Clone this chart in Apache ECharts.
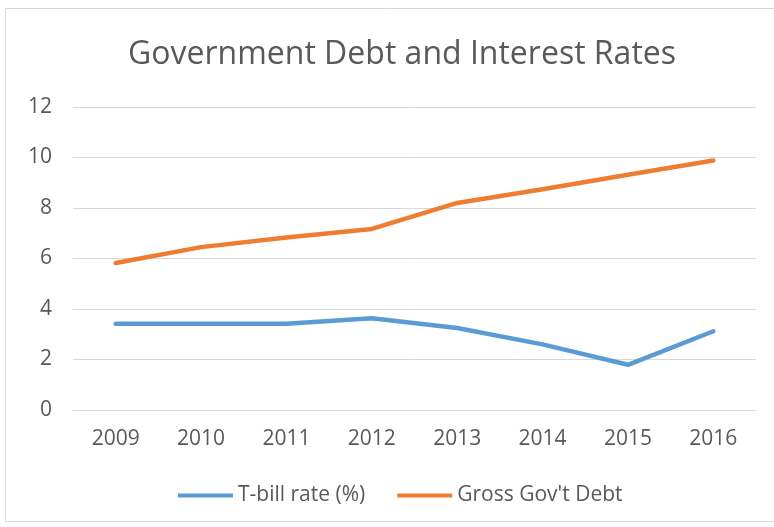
<!DOCTYPE html>
<html><head><meta charset="utf-8">
<script src="https://cdn.jsdelivr.net/npm/echarts@6/dist/echarts.min.js"></script>
<style>html,body{margin:0;padding:0;background:#fff}#c{width:774px;height:527px}</style>
</head><body><div id="c"></div>
<script>
const years = ['2009','2010','2011','2012','2013','2014','2015','2016'];
const tbill = [3.42, 3.42, 3.42, 3.63, 3.25, 2.6, 1.79, 3.12];
const debt = [5.82, 6.45, 6.83, 7.17, 8.2, 8.74, 9.32, 9.88];
const chart = echarts.init(document.getElementById('c'));
const font = "'Open Sans', sans-serif";
chart.setOption({
  animation: false,
  graphic: [{type:'rect', shape:{x:5.5,y:8.5,width:780,height:513}, style:{fill:'none', stroke:'#d9d9d9', lineWidth:1}}],
  title: {text:'Government Debt and Interest Rates', left:123, top:34,
    textStyle:{fontFamily:font, fontSize:32, fontWeight:'normal', color:'#595959'}},
  legend: {top:480, left:173, itemWidth:55, itemHeight:4, itemGap:32, icon:'rect',
    textStyle:{fontFamily:font, fontSize:21, color:'#595959'},
    data:['T-bill rate (%)','Gross Gov\'t Debt']},
  grid: {left:73, right:18, top:107, bottom:117},
  xAxis: {type:'category', data:years, boundaryGap:true,
    axisLine:{lineStyle:{color:'#d9d9d9', width:1}}, axisTick:{show:false},
    axisLabel:{fontFamily:font, fontSize:21, color:'#595959', margin:19}},
  yAxis: {type:'value', min:0, max:12, interval:2,
    axisLine:{show:false}, axisTick:{show:false},
    splitLine:{lineStyle:{color:'#d9d9d9', width:1}},
    axisLabel:{fontFamily:font, fontSize:21, color:'#595959', margin:21}},
  series: [
    {name:'T-bill rate (%)', type:'line', data:tbill, symbol:'none',
      lineStyle:{color:'#5B9BD5', width:4.5, cap:'round', join:'round'}, itemStyle:{color:'#5B9BD5'}},
    {name:'Gross Gov\'t Debt', type:'line', data:debt, symbol:'none',
      lineStyle:{color:'#ED7D31', width:4.5, cap:'round', join:'round'}, itemStyle:{color:'#ED7D31'}}
  ]
});
</script></body></html>
